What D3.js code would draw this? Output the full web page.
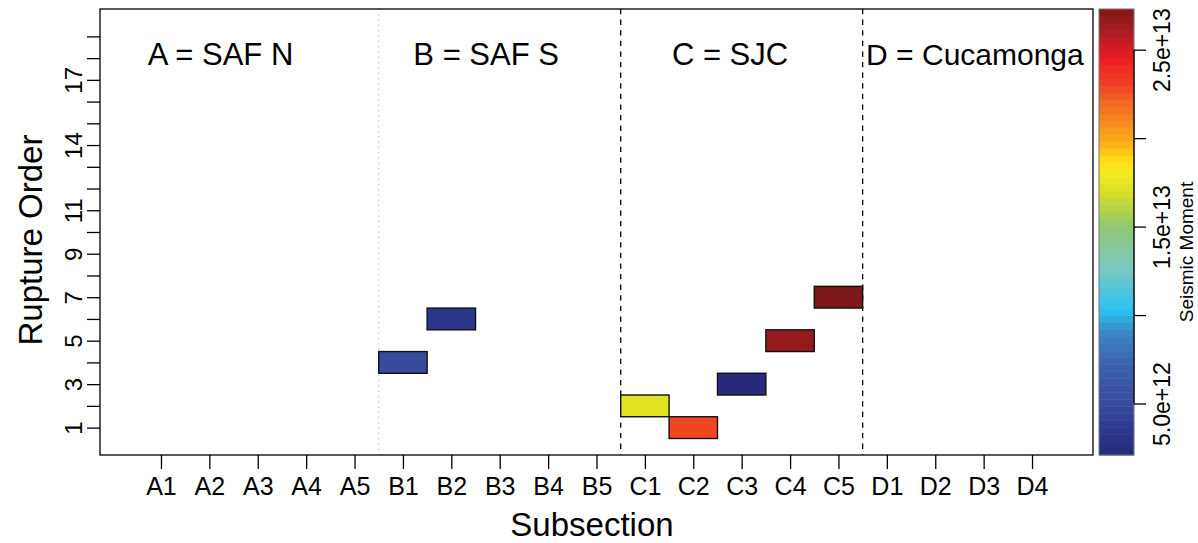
<!DOCTYPE html>
<html>
<head>
<meta charset="utf-8">
<script src="https://cdn.jsdelivr.net/npm/d3@7"></script>
<style>
  body { margin: 0; background: #fff; }
  text { font-family: "Liberation Sans", Arial, Helvetica, sans-serif; fill: #000; }
</style>
</head>
<body>
<div id="chart"></div>
<script>
(function rupture() {

  // subsections along the x axis
  var subsections = ['A1', 'A2', 'A3', 'A4', 'A5', 'B1', 'B2', 'B3', 'B4', 'B5',
    'C1', 'C2', 'C3', 'C4', 'C5', 'D1', 'D2', 'D3', 'D4'];

  // ruptured patches
  var rupSub = ['B1', 'B2', 'C1', 'C2', 'C3', 'C4', 'C5'];
  var rupOrder = [4, 6, 2, 1, 3, 5, 7];
  var rupMoment = [5.1e12, 3.4e12, 1.73e13, 2.29e13, 2.09e12, 2.66e13, 2.73e13];

  var sectionNames = ['A = SAF N', 'B = SAF S', 'C = SJC', 'D = Cucamonga'];
  var sectionLabelAt = [2.23, 7.72, 12.76, 17.82];

  var orderTicks = d3.range(1, 20);
  var orderLabels = [1, 3, 5, 7, 9, 11, 14, 17];
  var momentTicks = [5e12, 1e13, 1.5e13, 2e13, 2.5e13];
  var momentLabels = ['5.0e+12', '', '1.5e+13', '', '2.5e+13'];

  // palette (position 0 = bottom)
  var palPos = [0, 0.072, 0.13, 0.206, 0.28, 0.324, 0.42, 0.51, 0.548, 0.586, 0.63, 0.66, 0.69, 0.734, 0.794, 0.832, 0.89, 0.944, 1];
  var palCol = ['#262a78', '#2f3b93', '#3a4fa0', '#3b63ad', '#3e8ac8', '#27c3f0', '#7cc8c2', '#8fc675', '#add24a', '#d4de27',
    '#f2eb1c', '#ffde17', '#fdb913', '#f7941d', '#f26522', '#ef4123', '#ed1c24', '#b01e25', '#7f1718'];

  var width = 1198, height = 543;
  var left = 100, right = 1093, top = 9, bottom = 455;

  var svg = d3.select('#chart').append('svg')
    .attr('width', width)
    .attr('height', height);

  var x = d3.scaleLinear().domain([-0.26, 20.26]).range([left, right]);
  var y = d3.scaleLinear().domain([-0.26, 20.26]).range([bottom, top]);

  var ext = d3.extent(rupMoment);
  var pal = d3.scaleLinear().domain(palPos).range(palCol).interpolate(d3.interpolateRgb);
  var color = function(v) { return pal((v - ext[0]) / (ext[1] - ext[0])); };

  var idx = function(s) { return subsections.indexOf(s) + 1; };

  // section separators
  svg.append('line')
    .attr('x1', x(5.5)).attr('x2', x(5.5))
    .attr('y1', top).attr('y2', bottom)
    .attr('stroke', '#b8b8b8').attr('stroke-width', 1)
    .attr('stroke-dasharray', '1.3,4');

  [10.5, 15.5].forEach(function(p) {
    svg.append('line')
      .attr('x1', x(p)).attr('x2', x(p))
      .attr('y1', top).attr('y2', bottom)
      .attr('stroke', '#000').attr('stroke-width', 1.3)
      .attr('stroke-dasharray', '5.3,5.3');
  });

  // rupture patches
  svg.selectAll('.patch')
    .data(rupSub)
    .enter()
    .append('rect')
    .attr('class', 'patch')
    .attr('x', function(d) { return x(idx(d) - 0.5); })
    .attr('width', function(d) { return x(idx(d) + 0.5) - x(idx(d) - 0.5); })
    .attr('y', function(d, i) { return y(rupOrder[i] + 0.5); })
    .attr('height', function(d, i) { return y(rupOrder[i] - 0.5) - y(rupOrder[i] + 0.5); })
    .attr('fill', function(d, i) { return color(rupMoment[i]); })
    .attr('stroke', '#111')
    .attr('stroke-width', 1.4);

  // box
  svg.append('rect')
    .attr('x', left).attr('y', top)
    .attr('width', right - left).attr('height', bottom - top)
    .attr('fill', 'none').attr('stroke', '#000').attr('stroke-width', 1.3);

  // x axis
  var xAxis = svg.append('g')
    .attr('transform', 'translate(0,' + bottom + ')')
    .call(d3.axisBottom(x)
      .tickValues(subsections.map(function(d, i) { return i + 1; }))
      .tickFormat(function(d) { return subsections[d - 1]; })
      .tickSize(14).tickPadding(0));
  xAxis.select('.domain').remove();
  xAxis.selectAll('line').attr('stroke', '#000').attr('stroke-width', 1.3);
  xAxis.selectAll('text')
    .attr('y', 40).attr('dy', 0)
    .style('font-size', '25px')
    .attr('fill', '#000');

  // y axis
  var yAxis = svg.append('g')
    .attr('transform', 'translate(' + left + ',0)')
    .call(d3.axisLeft(y)
      .tickValues(orderTicks)
      .tickFormat(function(d) { return orderLabels.indexOf(d) >= 0 ? d : ''; })
      .tickSize(13));
  yAxis.select('.domain').remove();
  yAxis.selectAll('line').attr('stroke', '#000').attr('stroke-width', 1.3);
  yAxis.selectAll('text')
    .attr('x', 0).attr('dy', 0)
    .attr('transform', 'translate(-18,0) rotate(-90)')
    .attr('text-anchor', 'middle')
    .style('font-size', '24px')
    .attr('fill', '#000');

  // section labels
  svg.selectAll('.sect')
    .data(sectionNames)
    .enter()
    .append('text')
    .attr('class', 'sect')
    .attr('x', function(d, i) { return x(sectionLabelAt[i]); })
    .attr('y', 64.5)
    .attr('text-anchor', 'middle')
    .style('font-size', function(d, i) { return i === 3 ? '30px' : '31px'; })
    .text(function(d) { return d; });

  // axis titles
  svg.append('text')
    .attr('x', 592).attr('y', 536)
    .attr('text-anchor', 'middle')
    .style('font-size', '33px')
    .text('Subsection');

  svg.append('text')
    .attr('transform', 'translate(42,240) rotate(-90)')
    .attr('text-anchor', 'middle')
    .style('font-size', '33px')
    .text('Rupture Order');

  // colour bar
  var cbLeft = 1099, cbRight = 1134;
  var cb = d3.scaleLinear().domain(ext).range([bottom, top]);
  var nBand = 64;
  var bands = d3.range(nBand);
  svg.selectAll('.band')
    .data(bands)
    .enter()
    .append('rect')
    .attr('class', 'band')
    .attr('x', cbLeft)
    .attr('width', cbRight - cbLeft)
    .attr('y', function(d) { return bottom - (d + 1) * (bottom - top) / nBand; })
    .attr('height', (bottom - top) / nBand + 0.5)
    .attr('fill', function(d) { return pal((d + 0.5) / nBand); });

  svg.append('rect')
    .attr('x', cbLeft).attr('y', top)
    .attr('width', cbRight - cbLeft).attr('height', bottom - top)
    .attr('fill', 'none').attr('stroke', '#777').attr('stroke-width', 1);

  var cAxis = svg.append('g')
    .attr('transform', 'translate(' + cbRight + ',0)')
    .call(d3.axisRight(cb)
      .tickValues(momentTicks)
      .tickFormat(function(d, i) { return momentLabels[i]; })
      .tickSize(12).tickSizeOuter(0));
  cAxis.select('.domain')
    .attr('d', 'M0,' + cb(momentTicks[0]) + 'V' + cb(momentTicks[momentTicks.length - 1]))
    .attr('stroke', '#000').attr('stroke-width', 1.3);
  cAxis.selectAll('line').attr('stroke', '#000').attr('stroke-width', 1.3);
  cAxis.selectAll('text')
    .attr('x', 0).attr('dy', 0)
    .attr('transform', 'translate(36,0) rotate(-90)')
    .attr('text-anchor', 'middle')
    .style('font-size', '23px')
    .attr('fill', '#000');

  svg.append('text')
    .attr('transform', 'translate(1193,252) rotate(-90)')
    .attr('text-anchor', 'middle')
    .style('font-size', '19px')
    .text('Seismic Moment');

})();
</script>
</body>
</html>
